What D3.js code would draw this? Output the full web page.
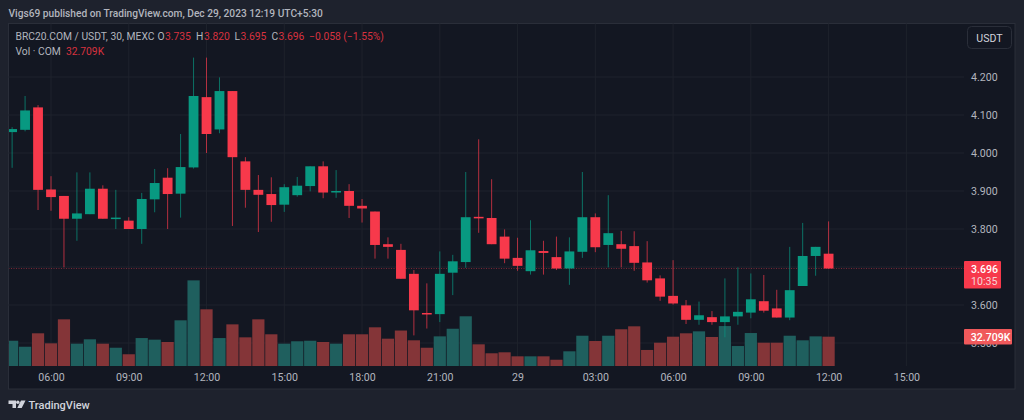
<!DOCTYPE html>
<meta charset="utf-8">
<script src="https://d3js.org/d3.v7.min.js"></script>
<style>
  html, body { margin: 0; padding: 0; background: #1e222d; overflow: hidden; }
  text { font-family: Roboto, "Noto Sans", sans-serif; }
</style>
<div id="my_dataviz"></div>
<script>

// 30 minute candles
var opens = [4.055,4.061,4.120,3.904,3.887,3.827,3.839,3.906,3.828,3.822,3.800,3.878,3.935,3.893,3.962,4.147,
  4.062,4.163,3.978,3.903,3.892,3.864,3.889,3.913,3.965,3.898,3.900,3.861,3.846,3.760,3.745,3.682,
  3.579,3.576,3.685,3.713,3.832,3.829,3.780,3.724,3.689,3.742,3.726,3.696,3.740,3.831,3.758,3.760,
  3.755,3.712,3.670,3.624,3.599,3.561,3.568,3.555,3.570,3.580,3.610,3.591,3.567,3.650,3.729,3.735]
var highs = [4.068,4.150,4.126,3.939,3.887,3.949,3.949,3.915,3.903,3.831,3.895,3.958,3.960,4.050,4.251,4.251,
  4.199,4.163,3.989,3.942,3.936,3.918,3.937,3.965,3.978,3.955,3.918,3.879,3.846,3.778,3.761,3.692,
  3.657,3.741,3.732,3.950,4.036,3.931,3.799,3.777,3.823,3.769,3.780,3.778,3.950,3.841,3.889,3.795,
  3.794,3.768,3.678,3.718,3.613,3.609,3.584,3.670,3.699,3.683,3.679,3.640,3.753,3.816,3.753,3.820]
var lows = [3.961,4.057,3.850,3.848,3.699,3.769,3.839,3.827,3.800,3.800,3.761,3.844,3.800,3.830,3.959,4.000,
  4.052,3.808,3.856,3.792,3.819,3.845,3.885,3.899,3.881,3.882,3.829,3.817,3.722,3.722,3.669,3.520,
  3.538,3.555,3.626,3.698,3.790,3.760,3.710,3.690,3.680,3.680,3.692,3.653,3.724,3.739,3.699,3.699,
  3.690,3.659,3.611,3.601,3.550,3.548,3.548,3.515,3.548,3.565,3.580,3.567,3.560,3.650,3.677,3.695]
var closes = [4.063,4.112,3.903,3.884,3.827,3.841,3.906,3.827,3.830,3.800,3.879,3.921,3.892,3.963,4.150,4.050,
  4.163,3.989,3.903,3.890,3.863,3.910,3.914,3.965,3.896,3.900,3.861,3.854,3.758,3.753,3.669,3.586,
  3.575,3.682,3.715,3.831,3.828,3.760,3.722,3.703,3.744,3.737,3.696,3.741,3.831,3.752,3.789,3.748,
  3.711,3.665,3.622,3.604,3.561,3.573,3.555,3.570,3.582,3.615,3.585,3.567,3.639,3.729,3.753,3.696]
var volumes = [28.2,21.5,36.5,25.3,52.1,24.9,29.8,24.9,20.4,13.1,31.2,29.4,26.8,51.0,95.6,63.3,
  31.2,46.5,32.0,52.1,35.4,24.9,27.6,28.2,26.8,24.9,35.4,35.4,43.2,30.5,39.6,28.7,
  20.4,33.1,41.6,55.5,24.2,14.2,15.3,10.8,10.8,10.8,7.0,16.4,33.8,27.9,33.8,41.0,
  44.3,17.9,26.0,32.7,36.5,38.7,32.4,44.6,22.3,36.8,26.0,26.0,33.8,28.7,33.1,32.709]

var priceTicks = [3.5,3.6,3.8,3.9,4.0,4.1,4.2]
var timeTicks = [3,9,15,21,27,33,39,45,51,57,63,69]
var timeLabels = ["06:00","09:00","12:00","15:00","18:00","21:00","29","03:00","06:00","09:00","12:00","15:00"]

var lastPrice = "3.696", countdown = "10:35", lastVolume = 32.709

var width = 1024, height = 420
var frame = {left: 8.5, top: 23.5, right: 1015, bottom: 389},
    plotRight = 964, plotBottom = 366

var up = "#089981", down = "#f7394b"
var upVol = "#1f5f5e", downVol = "#843538"
var axisFont = 10.6

var svg = d3.select("#my_dataviz")
  .append("svg")
    .attr("width", width)
    .attr("height", height)
    .style("display", "block")

svg.append("rect")
    .attr("x", frame.left).attr("y", frame.top)
    .attr("width", frame.right - frame.left).attr("height", frame.bottom - frame.top)
    .attr("fill", "#131722").attr("stroke", "#2a2e39")

svg.append("clipPath").attr("id", "plot")
  .append("rect")
    .attr("x", frame.left + 0.5).attr("y", frame.top)
    .attr("width", plotRight - frame.left).attr("height", plotBottom - frame.top)

var x = d3.scaleLinear().domain([3, 63]).range([51, 828.6])
var y = d3.scaleLinear().domain([3.5, 4.2]).range([343, 77])
var yVol = d3.scaleLinear().domain([0, 32.709]).range([plotBottom, 336.7])

var barW = 9.8, volW = 12.2
var idx = d3.range(opens.length)

// grid
var grid = svg.append("g").attr("stroke", "#1e222c").attr("stroke-width", 1)
grid.selectAll(".h").data(d3.range(3.5, 4.21, 0.1)).enter().append("line")
    .attr("x1", frame.left).attr("x2", plotRight)
    .attr("y1", function(d) { return y(d) }).attr("y2", function(d) { return y(d) })
grid.selectAll(".v").data(timeTicks).enter().append("line")
    .attr("x1", function(d) { return x(d) }).attr("x2", function(d) { return x(d) })
    .attr("y1", frame.top).attr("y2", plotBottom)

var plot = svg.append("g").attr("clip-path", "url(#plot)")

// volume goes under the candles
plot.selectAll(".vol").data(idx).enter().append("rect")
    .attr("x", function(i) { return x(i) - volW / 2 })
    .attr("width", volW)
    .attr("y", function(i) { return yVol(volumes[i]) })
    .attr("height", function(i) { return plotBottom - yVol(volumes[i]) })
    .attr("fill", function(i) { return closes[i] >= opens[i] ? upVol : downVol })

// last price line
plot.append("line")
    .attr("x1", frame.left).attr("x2", plotRight)
    .attr("y1", y(+lastPrice)).attr("y2", y(+lastPrice))
    .attr("stroke", down).attr("stroke-opacity", 0.45)
    .attr("stroke-dasharray", "1 1.5")

plot.selectAll(".wick").data(idx).enter().append("line")
    .attr("x1", function(i) { return x(i) }).attr("x2", function(i) { return x(i) })
    .attr("y1", function(i) { return y(highs[i]) }).attr("y2", function(i) { return y(lows[i]) })
    .attr("stroke", function(i) { return closes[i] >= opens[i] ? up : down })
    .attr("stroke-opacity", 0.7)

plot.selectAll(".body").data(idx).enter().append("rect")
    .attr("x", function(i) { return x(i) - barW / 2 })
    .attr("width", barW)
    .attr("y", function(i) { return y(Math.max(opens[i], closes[i])) })
    .attr("height", function(i) { return Math.max(1.5, Math.abs(y(opens[i]) - y(closes[i]))) })
    .attr("fill", function(i) { return closes[i] >= opens[i] ? up : down })

// axes
var xAxis = svg.append("g")
    .attr("transform", "translate(0," + plotBottom + ")")
    .call(d3.axisBottom(x).tickValues(timeTicks).tickSize(0).tickPadding(7)
      .tickFormat(function(d, i) { return timeLabels[i] }))
var yAxis = svg.append("g")
    .attr("transform", "translate(" + plotRight + ",0)")
    .call(d3.axisRight(y).tickValues(priceTicks).tickSize(0).tickPadding(7)
      .tickFormat(d3.format(".3f")))
xAxis.select(".domain").remove()
yAxis.select(".domain").remove()
svg.selectAll(".tick text")
    .attr("fill", "#b2b5be").attr("font-size", axisFont)
    .style("font-family", "Roboto, sans-serif")

// price tags
svg.append("rect").attr("x", plotRight).attr("y", y(+lastPrice) - 7.5)
    .attr("width", 37).attr("height", 27.5).attr("rx", 1).attr("fill", "#f7394b")
svg.append("text").attr("x", 971).attr("y", y(+lastPrice) + 4)
    .attr("fill", "#fff").attr("font-size", axisFont).attr("font-weight", 500).text(lastPrice)
svg.append("text").attr("x", 971).attr("y", y(+lastPrice) + 16.5)
    .attr("fill", "#f6d5d8").attr("font-size", axisFont).text(countdown)

svg.append("rect").attr("x", plotRight).attr("y", yVol(lastVolume) - 7.7)
    .attr("width", 48).attr("height", 15.5).attr("rx", 1).attr("fill", "#f0595b")
svg.append("text").attr("x", 970.7).attr("y", yVol(lastVolume) + 4)
    .attr("fill", "#fff").attr("font-size", axisFont).attr("font-weight", 500).text(lastVolume + "K")

// USDT button
svg.append("rect").attr("x", 967.5).attr("y", 26.5).attr("width", 44).attr("height", 22)
    .attr("rx", 4).attr("fill", "#131722").attr("stroke", "#2a2e39")
svg.append("text").attr("x", 989.5).attr("y", 41.5).attr("text-anchor", "middle")
    .attr("fill", "#d1d4dc").attr("font-size", axisFont).text("USDT")

// header
svg.append("text").attr("x", 8.5).attr("y", 16.5).attr("fill", "#b2b5be")
    .attr("font-size", 10.2).attr("font-weight", 500)
    .text("Vigs69 published on TradingView.com, Dec 29, 2023 12:19 UTC+5:30")

// legend
var gray = "#b2b5be", red = "#d8323f"
var legend = [
  [15.5, "BRC20.COM / USDT, 30, MEXC", gray],
  [157.5, "O", gray], [165, "3.735", red],
  [196, "H", gray], [204, "3.820", red],
  [234.5, "L", gray], [240.5, "3.695", red],
  [271.5, "C", gray], [278.5, "3.696", red],
  [309, "\u22120.058 (\u22121.55%)", red]
]
svg.selectAll(".legend").data(legend).enter().append("text")
    .attr("x", function(d) { return d[0] }).attr("y", 40)
    .attr("fill", function(d) { return d[2] })
    .attr("font-size", 10.3)
    .text(function(d) { return d[1] })
svg.append("text").attr("x", 15.5).attr("y", 55).attr("fill", gray)
    .attr("font-size", 10.3).text("Vol \u00b7 COM")
svg.append("text").attr("x", 66).attr("y", 55).attr("fill", red)
    .attr("font-size", 10.3).text("32.709K")

// TradingView logo
var logo = svg.append("g").attr("transform", "translate(8.5,400.5)").attr("fill", "#d1d4dc")
logo.append("path").attr("d", "M0 0H7.5V7.5H4V3.4H0Z")
logo.append("circle").attr("cx", 9.3).attr("cy", 1.7).attr("r", 1.7)
logo.append("path").attr("d", "M12.5 0H17L13.2 7.5H8.8Z")
svg.append("text").attr("x", 28.5).attr("y", 409).attr("fill", "#d1d4dc")
    .attr("font-size", 11).attr("font-weight", 500).text("TradingView")

</script>
